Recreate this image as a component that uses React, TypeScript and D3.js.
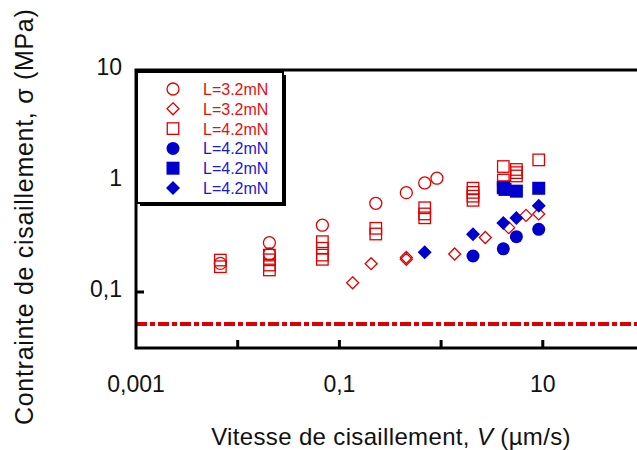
import React from 'react';
import * as d3 from 'd3';

const W = 637;
const H = 450;

// x tick values and labels
const xTickValues = [0.001, 0.01, 0.1, 1, 10];
const xTickLabels = ['0,001', '', '0,1', '', '10'];
const yTickValues = [0.1, 1, 10];
const yTickLabels = ['0,1', '1', '10'];

// L=3.2mN open circles (red)
const circ32X = [0.00675, 0.0205, 0.0205, 0.068, 0.228, 0.455, 0.69, 0.91];
const circ32Y = [0.181, 0.278, 0.22, 0.40, 0.63, 0.785, 0.96, 1.06];

// L=3.2mN open diamonds (red)
const diam32X = [0.135, 0.205, 0.455, 0.455, 1.36, 2.72, 4.62, 6.84, 9.12];
const diam32Y = [0.121, 0.18, 0.205, 0.197, 0.22, 0.31, 0.38, 0.49, 0.505];

// L=4.2mN open squares (red)
const sq42X = [0.00675, 0.00675, 0.0205, 0.0205, 0.0205, 0.0205, 0.068, 0.068, 0.068, 0.068, 0.228, 0.228, 0.69, 0.69, 0.69, 2.06, 2.06, 2.06, 2.06, 4.09, 4.09, 4.09, 5.5, 5.5, 5.5, 9.12];
const sq42Y = [0.194, 0.169, 0.215, 0.195, 0.175, 0.158, 0.284, 0.248, 0.215, 0.197, 0.375, 0.333, 0.574, 0.505, 0.466, 0.862, 0.79, 0.73, 0.67, 1.35, 1.02, 0.89, 1.27, 1.19, 1.11, 1.55];

// L=4.2mN filled circles (blue)
const fcircX = [2.06, 4.09, 5.5, 9.12];
const fcircY = [0.211, 0.245, 0.315, 0.367];

// L=4.2mN filled squares (blue)
const fsqX = [4.09, 4.25, 5.5, 9.12];
const fsqY = [0.87, 0.84, 0.81, 0.86];

// L=4.2mN filled diamonds (blue)
const fdiamX = [0.69, 2.06, 4.09, 5.5, 9.12];
const fdiamY = [0.228, 0.331, 0.419, 0.464, 0.60];

// reference line value
const refLineY = 0.0515;

const legendLabels = ['L=3.2mN', 'L=3.2mN', 'L=4.2mN', 'L=4.2mN', 'L=4.2mN', 'L=4.2mN'];

const RED = '#e00000';
const BLUE = '#0000cc';
const FONT = '"Liberation Sans", Arial, sans-serif';

type Shape = 'circle' | 'diamond' | 'square';

function Marker({ x, y, shape, filled, color }: { x: number; y: number; shape: Shape; filled: boolean; color: string }) {
  const fill = filled ? color : 'none';
  const stroke = filled ? 'none' : color;
  const sw = 1.3;
  if (shape === 'circle') {
    return <circle cx={x} cy={y} r={filled ? 6.5 : 6} fill={fill} stroke={stroke} strokeWidth={sw} />;
  }
  if (shape === 'square') {
    const s = filled ? 13 : 11.5;
    return <rect x={x - s / 2} y={y - s / 2} width={s} height={s} fill={fill} stroke={stroke} strokeWidth={sw} />;
  }
  const d = filled ? 7 : 6;
  return (
    <path
      d={`M${x},${y - d}L${x + d},${y}L${x},${y + d}L${x - d},${y}Z`}
      fill={fill}
      stroke={stroke}
      strokeWidth={sw}
    />
  );
}

export default function App() {
  const left = 136;
  const top = 70;
  const bottom = 348;
  const decX = 101.7;
  const x = d3.scaleLog().domain([0.001, 100]).range([left, left + 5 * decX]);
  const y = d3.scaleLog().domain([0.0313, 10]).range([bottom, top]);

  const series: { xs: number[]; ys: number[]; shape: Shape; filled: boolean; color: string }[] = [
    { xs: circ32X, ys: circ32Y, shape: 'circle', filled: false, color: RED },
    { xs: diam32X, ys: diam32Y, shape: 'diamond', filled: false, color: RED },
    { xs: sq42X, ys: sq42Y, shape: 'square', filled: false, color: RED },
    { xs: fcircX, ys: fcircY, shape: 'circle', filled: true, color: BLUE },
    { xs: fsqX, ys: fsqY, shape: 'square', filled: true, color: BLUE },
    { xs: fdiamX, ys: fdiamY, shape: 'diamond', filled: true, color: BLUE },
  ];

  const legX = 137;
  const legY = 72;
  const legW = 146;
  const legH = 131;
  const rowY0 = 89;
  const rowStep = 19.8;

  return (
    <svg width={W} height={H} style={{ position: 'absolute', left: 0, top: 0, background: '#fff' }} fontFamily={FONT}>
      <rect x={0} y={0} width={W} height={H} fill="#fff" />
      {/* reference dash-dot line */}
      <line
        x1={left}
        x2={W + 5}
        y1={y(refLineY)}
        y2={y(refLineY)}
        stroke="#dd0000"
        strokeWidth={4}
        strokeDasharray="11,3,5,3"
      />
      {/* frame */}
      <path d={`M${W + 5},${top}H${left}V${bottom}H${W + 5}`} fill="none" stroke="#000" strokeWidth={3} />
      {/* x ticks */}
      {xTickValues.map((v, i) => (
        <g key={'xt' + i}>
          {i > 0 && <line x1={x(v)} x2={x(v)} y1={bottom} y2={bottom - 8} stroke="#000" strokeWidth={3} />}
          {xTickLabels[i] && (
            <text x={x(v)} y={392} textAnchor="middle" fontSize={23} fill="#111">
              {xTickLabels[i]}
            </text>
          )}
        </g>
      ))}
      {/* y ticks */}
      {yTickValues.map((v, i) => (
        <g key={'yt' + i}>
          {v < 10 && <line x1={left} x2={left + 8} y1={y(v)} y2={y(v)} stroke="#000" strokeWidth={3} />}
          <text x={122} y={y(v) + 5} textAnchor="end" fontSize={23} fill="#111">
            {yTickLabels[i]}
          </text>
        </g>
      ))}
      {/* data */}
      {series.map((s, si) =>
        s.xs.map((xv, i) => (
          <Marker key={si + '-' + i} x={x(xv)} y={y(s.ys[i])} shape={s.shape} filled={s.filled} color={s.color} />
        ))
      )}
      {/* legend */}
      <rect x={legX + 3} y={legY + 3} width={legW} height={legH} fill="#000" />
      <rect x={legX} y={legY} width={legW} height={legH} fill="#fff" stroke="#000" strokeWidth={2} />
      {series.map((s, i) => (
        <g key={'lg' + i}>
          <Marker x={173} y={rowY0 + i * rowStep} shape={s.shape} filled={s.filled} color={s.color} />
          <text x={203} y={rowY0 + i * rowStep + 6} fontSize={16} fill={s.color === RED ? '#e51010' : '#1a1acc'}>
            {legendLabels[i]}
          </text>
        </g>
      ))}
      {/* axis titles */}
      <text x={391} y={445} textAnchor="middle" fontSize={24} letterSpacing={0.35} fill="#111">
        Vitesse de cisaillement, <tspan fontStyle="italic">V</tspan> (µm/s)
      </text>
      <text
        transform={`translate(33,${425}) rotate(-90)`}
        x={0}
        y={0}
        textAnchor="start"
        fontSize={25}
        letterSpacing={0.7}
        fill="#111"
      >
        Contrainte de cisaillement, σ (MPa)
      </text>
    </svg>
  );
}
